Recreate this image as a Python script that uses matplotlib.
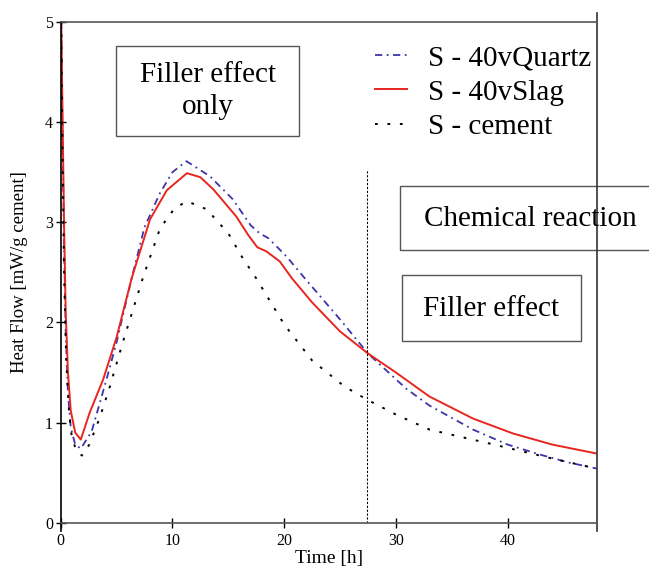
import matplotlib
matplotlib.use("Agg")
import matplotlib.pyplot as plt
from matplotlib.patches import Rectangle

plt.rcParams['font.family'] = ['Liberation Serif', 'DejaVu Serif']

# S - 40vQuartz (dash-dot, blue)
quartz_t = [0.05, 0.15, 0.3, 0.45, 0.65, 0.9, 1.3, 1.8, 2.77, 4.1, 5, 6.35, 7.5, 8.88, 10,
            11.25, 13.35, 15.4, 17.0, 17.8, 18.6, 20.2, 21.85, 25, 27.5, 30.9, 33, 36.9, 40, 42.9, 45.5, 48]
quartz_q = [5.0, 4.0, 2.8, 1.9, 1.3, 0.95, 0.78, 0.74, 0.91, 1.43, 1.8, 2.44, 2.95, 3.29, 3.5,
            3.61, 3.46, 3.23, 2.97, 2.89, 2.84, 2.66, 2.44, 2.03, 1.69, 1.34, 1.17, 0.93, 0.78, 0.68, 0.6, 0.54]

# S - 40vSlag (solid, red)
slag_t = [0.05, 0.15, 0.3, 0.45, 0.65, 0.9, 1.3, 1.8, 2.6, 3.8, 5, 6.35, 8, 9.5, 11.3, 12.5,
          13.65, 15.7, 16.8, 17.6, 18.4, 19.6, 20.7, 22.5, 25, 27.5, 30, 33, 36.9, 40.5, 44, 48]
slag_q = [5.0, 4.2, 3.0, 2.1, 1.5, 1.12, 0.9, 0.83, 1.1, 1.43, 1.85, 2.44, 3.03, 3.32, 3.49, 3.45,
          3.33, 3.06, 2.87, 2.75, 2.71, 2.61, 2.44, 2.2, 1.91, 1.69, 1.5, 1.26, 1.04, 0.89, 0.78, 0.69]

# S - cement (dotted, black)
cement_t = [0.05, 0.15, 0.3, 0.5, 0.75, 1.0, 1.4, 1.9, 2.56, 3.5, 4.35, 5.5, 7.4, 8.9, 10.2, 11.3,
            13.06, 15.0, 16.3, 17.5, 20, 22.5, 25.4, 27.4, 30, 33, 38.4, 44.4, 48]
cement_q = [5.0, 3.8, 2.5, 1.6, 1.1, 0.85, 0.72, 0.67, 0.78, 1.05, 1.34, 1.78, 2.46, 2.94, 3.14, 3.21,
            3.13, 2.89, 2.64, 2.44, 1.98, 1.62, 1.36, 1.23, 1.08, 0.93, 0.79, 0.63, 0.54]

x_ticks = [0, 10, 20, 30, 40]
y_ticks = [0, 1, 2, 3, 4, 5]
split_time = 27.4

fig = plt.figure(figsize=(6.49, 5.71), dpi=100)
ax = fig.add_axes([0.0935, 0.0846, 0.8264, 0.8769])

ax.plot(quartz_t, quartz_q, color='#3a35a8', lw=1.3, linestyle=(0, (4, 2.5, 1, 2.5)), label='S - 40vQuartz')
ax.plot(slag_t, slag_q, color='#e8251e', lw=1.4, label='S - 40vSlag')
ax.plot(cement_t, cement_q, color='black', lw=1.4, linestyle=(0, (1.4, 5)), label='S - cement')

# séparation à ~27 h
ax.plot([split_time, split_time], [0, 3.53], color='black', lw=0.8, linestyle=(0, (2, 1.5)))

ax.set_xlim(0, 48)
ax.set_ylim(0, 5)
ax.set_xticks(x_ticks)
ax.set_yticks(y_ticks)
ax.tick_params(axis='both', direction='inout', length=7, width=1, labelsize=11.5, pad=2)
ax.tick_params(axis='x', pad=4)

for side in ['top', 'bottom']:
    ax.spines[side].set_color('#555555')
    ax.spines[side].set_linewidth(1.2)
ax.spines['left'].set_linewidth(1.2)
ax.spines['right'].set_visible(False)
ax.plot([48, 48], [-0.08, 5.09], color='#333333', lw=1.2, clip_on=False)
ax.plot([0, 0], [-0.08, 0], color='black', lw=1.2, clip_on=False)

ax.set_xlabel('Time [h]', fontsize=14, labelpad=1)
ax.set_ylabel('Heat Flow [mW/g cement]', fontsize=13.5, labelpad=12)

# boîtes de texte
box_kw = dict(fill=False, edgecolor='#555555', lw=1.0, clip_on=False)
ax.add_patch(Rectangle((4.95, 3.857), 16.35, 0.9, **box_kw))
ax.text(13.17, 4.31, 'Filler effect\nonly', ha='center', va='center', fontsize=21, linespacing=1.3)
ax.add_patch(Rectangle((30.35, 2.727), 25, 0.633, **box_kw))
ax.text(42.0, 3.03, 'Chemical reaction', ha='center', va='center', fontsize=21)
ax.add_patch(Rectangle((30.59, 1.81), 15.98, 0.66, **box_kw))
ax.text(38.55, 2.13, 'Filler effect', ha='center', va='center', fontsize=21)

ax.legend(loc='upper left', bbox_to_anchor=(375 / 649, 1 - 45 / 571), bbox_transform=fig.transFigure,
          frameon=False, fontsize=21, handlelength=1.1, handletextpad=0.7, labelspacing=0.27,
          borderpad=0, borderaxespad=0)

fig.savefig('out.png', dpi=100)
